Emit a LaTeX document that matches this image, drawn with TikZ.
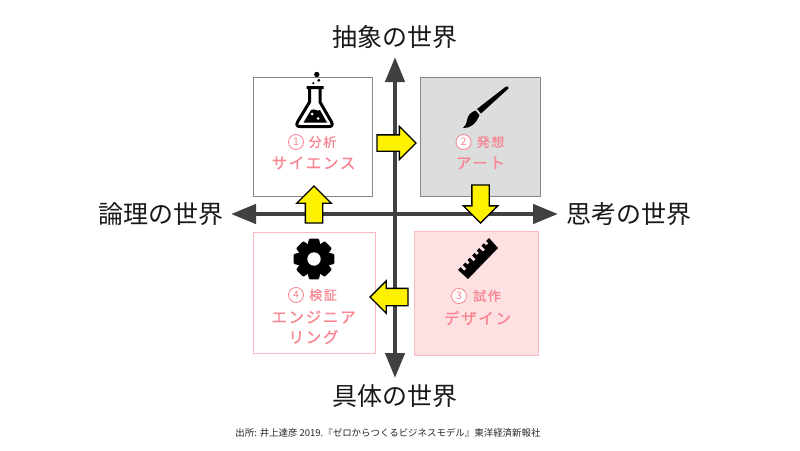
\documentclass[tikz,border=0pt]{standalone}
\usepackage{fontspec}
\setmainfont{Noto Sans CJK JP}
\newfontfamily\pinkjp[LetterSpace=11,FakeBold=0.6]{Noto Sans CJK JP}
\newfontfamily\pinksm[LetterSpace=12,FakeBold=0.4]{Noto Sans CJK JP}
\usetikzlibrary{arrows.meta,shapes.arrows,calc}
\definecolor{axisc}{HTML}{404040}
\definecolor{pinkt}{HTML}{F8848F}
\definecolor{pinkl}{HTML}{FBB9C0}
\definecolor{greyb}{HTML}{DCDDDD}
\definecolor{pinkb}{HTML}{FDE0E1}
\definecolor{greyl}{HTML}{858585}
\tikzset{
  axisline/.style={draw=axisc,line width=4.5pt,-{Triangle[length=25pt,width=19pt]}},
  quad/.style={anchor=north west,inner sep=0pt,outer sep=0pt,line width=1pt},
  axlabel/.style={font=\fontsize{25}{28}\selectfont,text=black!90,inner sep=0pt},
  subl/.style={font=\pinksm\fontsize{13}{15}\selectfont,text=pinkt,inner sep=0pt},
  mainl/.style={font=\pinkjp\fontsize{15.5}{18}\selectfont,text=pinkt,inner sep=0pt},
  numc/.style={circle,draw=pinkt,fill=white,line width=0.8pt,minimum size=15pt,inner sep=0pt,text=pinkt,font=\fontsize{10.5}{12}\selectfont},
  yarrow/.style={single arrow,draw=black,fill=yellow,line width=1.4pt,inner xsep=0pt,inner ysep=7.5pt,outer sep=0pt,single arrow head extend=8pt,anchor=tip},
}
\begin{document}
\begin{tikzpicture}[x=1pt,y=-1pt]
\useasboundingbox (0,0) rectangle (800,450);
% quadrants
\node[quad,draw=greyl,fill=white,minimum width=119.5pt,minimum height=119pt] (q1) at (253,77) {};
\node[quad,draw=greyl,fill=greyb,minimum width=120pt,minimum height=119pt] (q2) at (420,77) {};
\node[quad,draw=pinkl,fill=pinkb,minimum width=124pt,minimum height=124pt] (q3) at (414,231) {};
\node[quad,draw=pinkl,fill=white,minimum width=122pt,minimum height=121pt] (q4) at (253,232) {};
% axes
\coordinate (axC) at (395,214);
\coordinate (axN) at (395,57);
\coordinate (axS) at (395,378);
\coordinate (axW) at (231,214);
\coordinate (axE) at (558,214);
\draw[axisline] (axC) -- (axN);
\draw[axisline] (axC) -- (axS);
\draw[axisline] (axC) -- (axW);
\draw[axisline] (axC) -- (axE);
% axis labels
\node[axlabel] (ln) at (394.5,37) {抽象の世界};
\node[axlabel] (ls) at (394.5,396) {具体の世界};
\node[axlabel] (lw) at (160.5,214) {論理の世界};
\node[axlabel] (le) at (629,214) {思考の世界};
% flask
\draw[black,line width=3pt,line join=round]
  (306.5,87.5) -- (323.5,87.5) (309.5,87.5) -- (309.5,102) -- (297.5,122) .. controls (296,125) and (297,126.5) .. (300,126.5)
  -- (329,126.5) .. controls (332,126.5) and (333,125) .. (331.5,122) -- (320,102) -- (320,87.5);
\fill[black] (303.5,122.5) -- (311,110) .. controls (315,108) and (317,112) .. (320,110) -- (327,122.5) -- cycle;
\fill[white] (312,114) circle (1.5) (318,118.5) circle (1.5);
\fill[black] (316.8,74.5) circle (2.7) (318.8,80.3) circle (1.6) (313.3,83.2) circle (1.2);
% brush
\fill[black] (506,86.5) .. controls (507.5,85.5) and (509.5,87) .. (508.5,88.5) -- (481,113.5) -- (477,109) -- cycle;
\fill[black] (479.5,115) -- (475.5,110.5) .. controls (471,112) and (468,115) .. (467,120) .. controls (466.5,124) and (465,126) .. (463,128)
  .. controls (470,128.5) and (476,124) .. (479.5,115) -- cycle;
% ruler
\fill[black] (489,238) -- (498,248) -- (468,279) -- (458,270) -- cycle;
\foreach \t/\l in {0.12/5,0.27/3,0.42/5,0.57/3,0.72/5,0.87/3}{
  \fill[pinkb] ($(458,270)!\t!(489,238)$) ++(-1,1) ++(-0.7,-0.7) -- ++(2,-2) -- ++(0.7+0.7*\l,0.7+0.7*\l) -- ++(-2,2) -- cycle;
}
% gear
\begin{scope}[shift={(314,259)}]
\fill[black] (0,0) circle (15.5);
\foreach \a in {0,45,...,315}{
  \fill[black,rounded corners=1pt,rotate=\a] (-6.5,-13) -- (-5,-20.3) -- (5,-20.3) -- (6.5,-13) -- cycle;
}
\fill[white] (0,0) circle (6.7);
\end{scope}
% texts
\node[numc] (n1) at (296,142) {1};
\node[subl] (s1) at (322.5,142) {分析};
\node[mainl] (m1) at (313.5,163) {サイエンス};
\node[numc] (n2) at (463.5,142) {2};
\node[subl] (s2) at (490.5,142) {発想};
\node[mainl] (m2) at (480.5,163) {アート};
\node[numc] (n3) at (459,296) {3};
\node[subl] (s3) at (487,296) {試作};
\node[mainl] (m3) at (477.5,318) {デザイン};
\node[numc] (n4) at (296,295) {4};
\node[subl] (s4) at (323,295) {検証};
\node[mainl] (m4) at (313.5,317) {エンジニア};
\node[mainl] (m4b) at (313.5,337) {リング};
% yellow arrows
\node[yarrow,minimum height=39pt,single arrow head extend=8.5pt] (a12) at (416,143) {};
\node[yarrow,minimum height=38pt,inner ysep=8pt,single arrow head extend=8.5pt,rotate=-90] (a23) at (480.5,223) {};
\node[yarrow,minimum height=38pt,inner ysep=8pt,single arrow head extend=7.5pt,rotate=180] (a34) at (370,297) {};
\node[yarrow,minimum height=37pt,inner ysep=8pt,single arrow head extend=8.5pt,rotate=90] (a41) at (314,186) {};
% source
\node[inner sep=0pt,font=\fontsize{9.45}{12}\selectfont,text=black!85] (src) at (388,433) {出所: 井上達彦 2019.『ゼロからつくるビジネスモデル』東洋経済新報社};
\end{tikzpicture}
\end{document}
